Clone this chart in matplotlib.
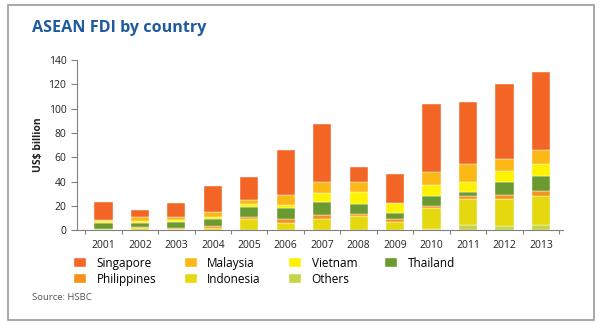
import matplotlib.pyplot as plt
from matplotlib.patches import Rectangle
import numpy as np

plt.rcParams['font.family'] = ['Open Sans', 'DejaVu Sans']

years = ['2001', '2002', '2003', '2004', '2005', '2006', '2007',
         '2008', '2009', '2010', '2011', '2012', '2013']

# US$ billion (stacked bottom to top)
others = [0, 0, 0, 0, 0, 0, 0, 0, 0, 0.5, 4.0, 3.0, 4.5]
indonesia = [0.5, 1.5, 1.0, 2.0, 9.1, 6.0, 9.1, 11.8, 6.9, 17.9, 21.8, 22.5, 23.8]
philippines = [0.5, 1.0, 1.0, 1.3, 1.9, 2.8, 3.0, 1.7, 2.4, 1.6, 2.2, 3.3, 3.8]
thailand = [4.8, 3.3, 4.3, 5.5, 8.2, 9.6, 11.2, 8.2, 5.0, 8.3, 3.6, 10.7, 12.6]
vietnam = [1.9, 1.6, 1.9, 1.6, 2.2, 2.2, 6.9, 9.6, 7.7, 8.5, 7.7, 8.8, 9.4]
malaysia = [0.5, 3.0, 2.2, 4.7, 3.6, 7.9, 9.1, 8.0, 0.5, 11.0, 15.3, 9.9, 11.8]
singapore = [14.6, 6.3, 11.8, 21.4, 18.4, 37.4, 48.5, 12.3, 23.3, 55.7, 51.1, 61.8, 64.5]

series = [
    ('Others', others, '#c5d545'),
    ('Indonesia', indonesia, '#e6d80e'),
    ('Philippines', philippines, '#f5921e'),
    ('Thailand', thailand, '#6b9a30'),
    ('Vietnam', vietnam, '#fff200'),
    ('Malaysia', malaysia, '#fbb817'),
    ('Singapore', singapore, '#f26524'),
]

fig = plt.figure(figsize=(6, 3.25), dpi=100)
ax = fig.add_axes([0.128, 0.292, 0.81, 0.523])

x = np.arange(len(years))
bottom = np.zeros(len(years))
bars = {}
for name, vals, color in series:
    bars[name] = ax.bar(x, vals, 0.5, bottom=bottom, color=color,
                        edgecolor='white', linewidth=0.3)
    bottom += np.array(vals)

ax.set_ylim(0, 140)
ax.set_xlim(-0.73, 12.6)
ax.set_yticks(range(0, 141, 20))
ax.set_xticks(x)
ax.set_xticklabels(years, fontsize=7.5, color='#222222')
ax.set_xticks(np.arange(-0.5, 12.6, 1), minor=True)
ax.tick_params(axis='x', which='major', length=0, pad=7)
ax.tick_params(axis='x', which='minor', length=3, color='#808080', width=0.8)
ax.tick_params(axis='y', length=4, color='#808080', width=0.8,
               labelsize=7.5, labelcolor='#222222')
for s in ['top', 'right']:
    ax.spines[s].set_visible(False)
for s in ['left', 'bottom']:
    ax.spines[s].set_color('#808080')
    ax.spines[s].set_linewidth(0.8)
ax.set_ylabel('US$ billion', fontsize=7.5, fontweight='bold', color='#222222',
              labelpad=3)

# legend, filled column-wise
order = ['Singapore', 'Philippines', 'Malaysia', 'Indonesia',
         'Vietnam', 'Others', 'Thailand']
handles = [bars[n] for n in order]
fig.legend(handles, order, ncol=4, loc='upper left',
           bbox_to_anchor=(0.116, 0.225), frameon=False, fontsize=8.5,
           handlelength=1.0, handleheight=0.7, handletextpad=0.9,
           columnspacing=2.4, labelspacing=0.25, borderaxespad=0)

fig.text(0.053, 0.915, 'ASEAN FDI by country', fontsize=11.6, fontweight='bold',
         color='#1d5a9f', va='center')
fig.text(0.053, 0.085, 'Source: HSBC', fontsize=6.8, color='#555555', va='center')

fig.patches.append(Rectangle((0.013, 0.015), 0.977, 0.97, transform=fig.transFigure,
                             fill=False, edgecolor='#999999', linewidth=1.2))

fig.savefig('out.png', dpi=100)
